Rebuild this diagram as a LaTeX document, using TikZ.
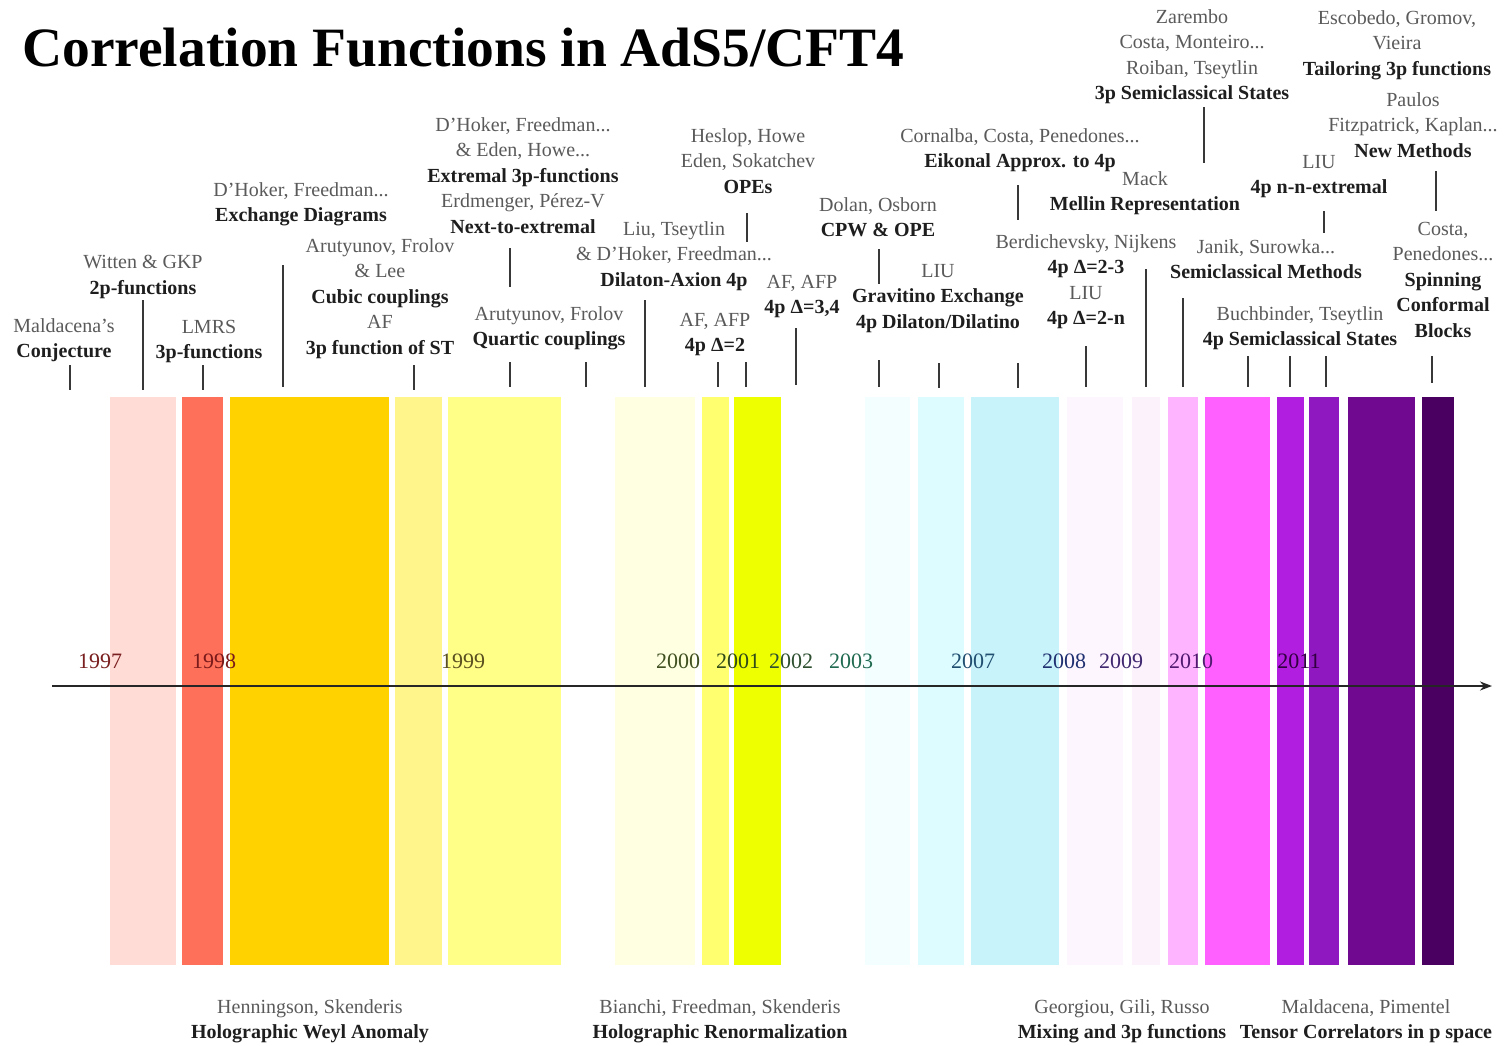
\documentclass[tikz,border=0pt]{standalone}
\usepackage{fontspec}
\setmainfont{Liberation Serif}
\usetikzlibrary{arrows.meta}
\definecolor{authgray}{HTML}{5A5A5A}
\definecolor{topicc}{HTML}{1E1E1E}
\definecolor{ba}{HTML}{FFDCD6}
\definecolor{bb}{HTML}{FF705A}
\definecolor{bc}{HTML}{FFD200}
\definecolor{bd}{HTML}{FFF58A}
\definecolor{be}{HTML}{FFFF88}
\definecolor{bf}{HTML}{FFFFE2}
\definecolor{bg}{HTML}{FFFF70}
\definecolor{bh}{HTML}{EEFF00}
\definecolor{bi}{HTML}{F2FEFF}
\definecolor{bj}{HTML}{DCFCFF}
\definecolor{bk}{HTML}{C8F3FA}
\definecolor{bl}{HTML}{FDF6FF}
\definecolor{bm}{HTML}{FCF2FC}
\definecolor{bn}{HTML}{FFB4FF}
\definecolor{bo}{HTML}{FF60FF}
\definecolor{bp}{HTML}{B21EE0}
\definecolor{bq}{HTML}{9018C0}
\definecolor{br}{HTML}{700890}
\definecolor{bs}{HTML}{4A0060}
\definecolor{ya}{HTML}{7A2020}
\definecolor{yb}{HTML}{7A1A1A}
\definecolor{yc}{HTML}{5A5020}
\definecolor{yd}{HTML}{405020}
\definecolor{ye}{HTML}{304A18}
\definecolor{yf}{HTML}{2E5030}
\definecolor{yg}{HTML}{206A50}
\definecolor{yh}{HTML}{204E70}
\definecolor{yi}{HTML}{203070}
\definecolor{yj}{HTML}{402870}
\definecolor{yk}{HTML}{501A70}
\definecolor{yl}{HTML}{300040}
\newcommand\au[1]{\textcolor{authgray}{#1}}
\newcommand\tp[1]{\textbf{#1}}
\newcommand\tickmark[4]{\coordinate (#1a) at (#2,#3); \coordinate (#1b) at (#2,#4); \draw[tickline] (#1a) -- (#1b);}
\begin{document}
\begin{tikzpicture}[x=1pt,y=-1pt,
  lab/.style={align=center, inner sep=0pt, anchor=north, text=topicc, yshift=-4pt,
    font=\fontsize{20}{25.5}\selectfont, execute at begin node=\strut},
  tickline/.style={line width=1.4pt, draw=black!78},
  yr/.style={anchor=base, inner sep=0pt, font=\fontsize{22}{22}\selectfont}
]
\useasboundingbox[fill=white] (0,0) rectangle (1505,1045);

% title
\node[anchor=base west, inner sep=0pt, font=\fontsize{55.5}{60}\selectfont\bfseries] (title) at (22,66) {Correlation Functions in AdS5/CFT4};

% bars
\fill[ba] (110,397) rectangle (176,965);
\fill[bb] (182,397) rectangle (223,965);
\fill[bc] (230,397) rectangle (389,965);
\fill[bd] (395,397) rectangle (442,965);
\fill[be] (448,397) rectangle (561,965);
\fill[bf] (615,397) rectangle (695,965);
\fill[bg] (702,397) rectangle (729,965);
\fill[bh] (734,397) rectangle (781,965);
\fill[bi] (865,397) rectangle (910,965);
\fill[bj] (918,397) rectangle (964,965);
\fill[bk] (971,397) rectangle (1059,965);
\fill[bl] (1067,397) rectangle (1123,965);
\fill[bm] (1132,397) rectangle (1160,965);
\fill[bn] (1168,397) rectangle (1198,965);
\fill[bo] (1205,397) rectangle (1270,965);
\fill[bp] (1277,397) rectangle (1304,965);
\fill[bq] (1309,397) rectangle (1339,965);
\fill[br] (1348,397) rectangle (1415,965);
\fill[bs] (1422,397) rectangle (1454,965);

% axis
\coordinate (axs) at (52,686);
\coordinate (axe) at (1492,686);
\draw[line width=2pt, draw=black!85, -{Stealth[length=12pt,width=9pt]}] (axs) -- (axe);

% years
\node[yr, text=ya] (y1997) at (100,668) {1997};
\node[yr, text=yb] (y1998) at (214,668) {1998};
\node[yr, text=yc] (y1999) at (463,668) {1999};
\node[yr, text=yd] (y2000) at (678,668) {2000};
\node[yr, text=ye] (y2001) at (738,668) {2001};
\node[yr, text=yf] (y2002) at (791,668) {2002};
\node[yr, text=yg] (y2003) at (851,668) {2003};
\node[yr, text=yh] (y2007) at (973,668) {2007};
\node[yr, text=yi] (y2008) at (1064,668) {2008};
\node[yr, text=yj] (y2009) at (1121,668) {2009};
\node[yr, text=yk] (y2010) at (1191,668) {2010};
\node[yr, text=yl] (y2011) at (1299,668) {2011};

% top labels
\node[lab] (l1) at (64,314) {\au{Maldacena's}\\\tp{Conjecture}};
\node[lab] (l2) at (143,251) {\au{Witten \& GKP}\\\tp{2p-functions}};
\node[lab] (l3) at (209,316) {\au{LMRS}\\\tp{3p-functions}};
\node[lab] (l4) at (301,178) {\au{D'Hoker, Freedman...}\\\tp{Exchange Diagrams}};
\node[lab] (l5) at (380,234) {\au{Arutyunov, Frolov}\\\au{\& Lee}\\\tp{Cubic couplings}\\\au{AF}\\\tp{3p function of ST}};
\node[lab] (l6) at (523,113) {\au{D'Hoker, Freedman...}\\\au{\& Eden, Howe...}\\\tp{Extremal 3p-functions}\\\au{Erdmenger, Pérez-V}\\\tp{Next-to-extremal}};
\node[lab] (l7) at (549,302) {\au{Arutyunov, Frolov}\\\tp{Quartic couplings}};
\node[lab] (l8) at (748,124) {\au{Heslop, Howe}\\\au{Eden, Sokatchev}\\\tp{OPEs}};
\node[lab] (l9) at (674,217) {\au{Liu, Tseytlin}\\\au{\& D'Hoker, Freedman...}\\\tp{Dilaton-Axion 4p}};
\node[lab] (l10) at (715,309) {\au{AF, AFP}\\\tp{4p Δ=2}};
\node[lab] (l11) at (802,271) {\au{AF, AFP}\\\tp{4p Δ=3,4}};
\node[lab] (l12) at (878,193) {\au{Dolan, Osborn}\\\tp{CPW \& OPE}};
\node[lab] (l13) at (1020,124) {\au{Cornalba, Costa, Penedones...}\\\tp{Eikonal Approx. to 4p}};
\node[lab] (l14) at (938,260) {\au{LIU}\\\tp{Gravitino Exchange}\\\tp{4p Dilaton/Dilatino}};
\node[lab] (l15) at (1145,167) {\au{Mack}\\\tp{Mellin Representation}};
\node[lab] (l16) at (1086,230) {\au{Berdichevsky, Nijkens}\\\tp{4p Δ=2-3}\\\au{LIU}\\\tp{4p Δ=2-n}};
\node[lab] (l18) at (1266,235) {\au{Janik, Surowka...}\\\tp{Semiclassical Methods}};
\node[lab] (l19) at (1192,5) {\au{Zarembo}\\\au{Costa, Monteiro...}\\\au{Roiban, Tseytlin}\\\tp{3p Semiclassical States}};
\node[lab] (l20) at (1397,6) {\au{Escobedo, Gromov,}\\\au{Vieira}\\\tp{Tailoring 3p functions}};
\node[lab] (l21) at (1413,88) {\au{Paulos}\\\au{Fitzpatrick, Kaplan...}\\\tp{New Methods}};
\node[lab] (l22) at (1319,151) {\au{LIU}\\\tp{4p n-n-extremal}};
\node[lab] (l23) at (1300,302) {\au{Buchbinder, Tseytlin}\\\tp{4p Semiclassical States}};
\node[lab] (l24) at (1443,218) {\au{Costa,}\\\au{Penedones...}\\\tp{Spinning}\\\tp{Conformal}\\\tp{Blocks}};

% bottom labels
\node[lab] (b1) at (310,995) {\au{Henningson, Skenderis}\\\tp{Holographic Weyl Anomaly}};
\node[lab] (b2) at (720,995) {\au{Bianchi, Freedman, Skenderis}\\\tp{Holographic Renormalization}};
\node[lab] (b3) at (1122,995) {\au{Georgiou, Gili, Russo}\\\tp{Mixing and 3p functions}};
\node[lab] (b4) at (1366,995) {\au{Maldacena, Pimentel}\\\tp{Tensor Correlators in p space}};

% ticks
\tickmark{ta}{70}{365}{390}
\tickmark{tb}{143}{300}{390}
\tickmark{tc}{203}{365}{390}
\tickmark{td}{283}{265}{387}
\tickmark{te}{414}{365}{390}
\tickmark{tf}{510}{248}{287}
\tickmark{tg}{510}{362}{387}
\tickmark{th}{586}{362}{387}
\tickmark{ti}{645}{300}{387}
\tickmark{tj}{718}{362}{387}
\tickmark{tk}{746}{362}{387}
\tickmark{tl}{747}{213}{242}
\tickmark{tm}{796}{328}{385}
\tickmark{tn}{879}{249}{284}
\tickmark{to}{879}{360}{387}
\tickmark{tp}{939}{363}{388}
\tickmark{tq}{1018}{185}{220}
\tickmark{tr}{1018}{363}{388}
\tickmark{ts}{1086}{346}{387}
\tickmark{tt}{1146}{269}{387}
\tickmark{tu}{1183}{298}{387}
\tickmark{tv}{1204}{107}{163}
\tickmark{tw}{1248}{356}{387}
\tickmark{tx}{1290}{356}{387}
\tickmark{ty}{1326}{356}{387}
\tickmark{tz}{1324}{211}{233}
\tickmark{tA}{1436}{171}{211}
\tickmark{tB}{1432}{356}{383}
\end{tikzpicture}
\end{document}
